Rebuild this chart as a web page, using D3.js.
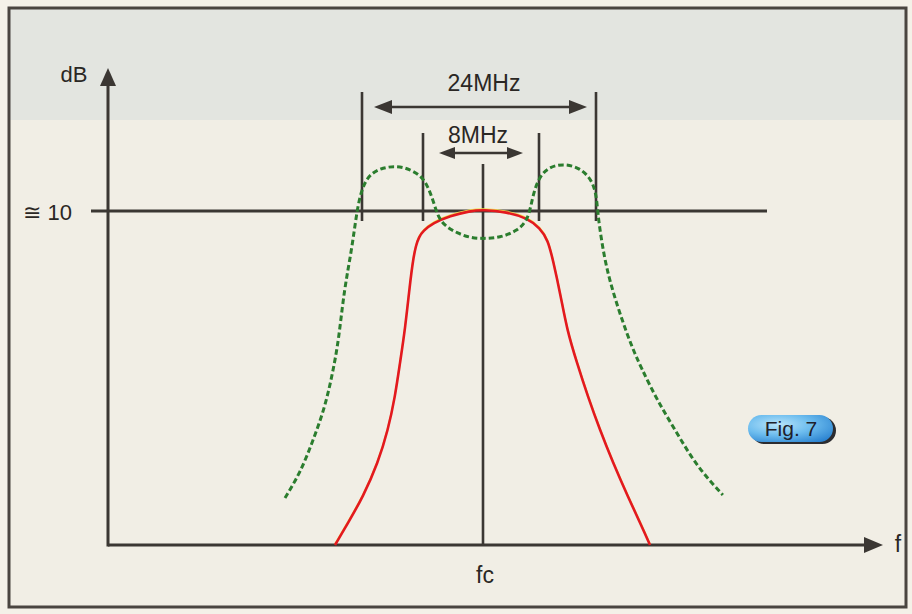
<!DOCTYPE html>
<html>
<head>
<meta charset="utf-8">
<script src="https://cdn.jsdelivr.net/npm/d3@7"></script>
<style>
    html, body { margin: 0; padding: 0; background: #f4f1e8; }
    svg { display: block; }
    text { font-family: "Liberation Sans", Arial, sans-serif; fill: #2a2724; }
</style>
</head>
<body>
<div id="chart"></div>
<script>
// DATA
// ----------------------------------------
// frequency offset from fc in MHz, level in dB
const WIDE_BAND = [-12, 12];      // 24MHz markers
const NARROW_BAND = [-4, 4];      // 8MHz markers
const REF_LEVEL = 10;
const REF_LABEL = "\u2245 10";
const WIDE_LABEL = "24MHz";
const NARROW_LABEL = "8MHz";

// red: wanted channel response
const redFreq = [-15.54, -15.54, -13.84, -11.87, -9.9, -8.59, -7.67, -7.02, -6.36, -5.7, -5.31, -4.92,
    -4.52, -4.0, -3.33, -2.2, -0.87, 0, 1.71, 3.14, 4.14, 5.26, 5.96, 7.02, 7.93, 9.33, 10.88,
    12.56, 14.39, 16.49, 18.46, 19.58, 19.58];
const redDb = [0, 0, 0.66, 1.44, 2.46, 3.44, 4.43, 5.45, 6.44, 7.84, 8.53, 8.98,
    9.22, 9.4, 9.64, 9.85, 10.0, 10.04, 9.97, 9.79, 9.49, 9.13, 8.53, 7.49, 6.44, 5.45, 4.43,
    3.44, 2.46, 1.44, 0.54, 0, 0];

// green dashed: double-humped response
const greenFreq = [-22.1, -22.1, -20.1, -18.4, -16.85, -15.85, -15.05, -14.35, -13.35, -12.66, -12, -10.95, -9.25,
    -7.4, -5.7, -4.13, -3.67, -3.33, -3.0, -2.53, -1.73, -0.87, 0, 1.21, 2.43, 3.21, 3.5, 3.86,
    5.12, 7.37, 9.75, 11.58, 12.14, 12.28, 13.2, 14.3, 15.79, 17.1, 18.3, 20.56, 23.37, 26.18, 29.8, 29.8];
const greenDb = [1.41, 1.41, 2.16, 3.14, 4.13, 5.15, 6.14, 7.63, 8.83, 10.03, 10.7, 11.12, 11.3,
    11.35, 11.25, 11.03, 10.72, 10.33, 9.82, 9.55, 9.34, 9.2, 9.17, 9.2, 9.4, 9.73, 10.33, 10.9,
    11.3, 11.42, 11.3, 10.9, 10.33, 9.82, 8.53, 7.63, 6.65, 5.9, 5.33, 4.34, 3.35, 2.34, 1.5, 1.5];

// LAYOUT
// ----------------------------------------
const WIDTH = 912;
const HEIGHT = 614;
const AXIS_X = 108;      // y axis position
const AXIS_END = 883;    // tip of f arrow
const INK = "#3b3733";
const RED = "#e3191f";
const GREEN = "#2b7d2e";

const svg = d3.select("#chart").append("svg")
    .attr("width", WIDTH)
    .attr("height", HEIGHT);

// schematic (not to scale) frequency axis
const x = d3.scaleLinear()
    .domain([WIDE_BAND[0], NARROW_BAND[0], 0, NARROW_BAND[1], WIDE_BAND[1]])
    .range([362, 423, 483, 539, 596]);
const y = d3.scaleLinear()
    .domain([0, REF_LEVEL])
    .range([545, 211]);

// BACKGROUND / FRAME
// ----------------------------------------
const defs = svg.append("defs");
const grad = defs.append("radialGradient")
    .attr("id", "pill").attr("cx", 0.35).attr("cy", 0.35).attr("r", 0.8);
grad.append("stop").attr("offset", "0%").attr("stop-color", "#b8e4fa");
grad.append("stop").attr("offset", "50%").attr("stop-color", "#6cbcee");
grad.append("stop").attr("offset", "100%").attr("stop-color", "#2a82d0");

svg.append("rect")
    .attr("x", 9).attr("y", 8).attr("width", 897).attr("height", 599)
    .attr("fill", "#f1eee5");
svg.append("rect")
    .attr("x", 9).attr("y", 8).attr("width", 897).attr("height", 112)
    .attr("fill", "#e3e5e0");
svg.append("rect")
    .attr("x", 9).attr("y", 8).attr("width", 897).attr("height", 599)
    .attr("fill", "none")
    .attr("stroke", "#4a4540")
    .attr("stroke-width", 3);

// AXES
// ----------------------------------------
const ink = svg.append("g").attr("stroke", INK).attr("fill", "none");

// y axis with arrow
ink.append("line")
    .attr("x1", AXIS_X).attr("x2", AXIS_X)
    .attr("y1", y(0) + 1.5).attr("y2", 80)
    .attr("stroke-width", 3);
svg.append("path")
    .attr("d", `M${AXIS_X},68 L${AXIS_X - 8},86 L${AXIS_X + 8},86 Z`)
    .attr("fill", INK);

// x axis with arrow
ink.append("line")
    .attr("x1", AXIS_X).attr("x2", AXIS_END - 12)
    .attr("y1", y(0)).attr("y2", y(0))
    .attr("stroke-width", 3);
svg.append("path")
    .attr("d", `M${AXIS_END},${y(0)} L${AXIS_END - 19},${y(0) - 8} L${AXIS_END - 19},${y(0) + 8} Z`)
    .attr("fill", INK);

// reference level line
ink.append("line")
    .attr("x1", 91).attr("x2", 767)
    .attr("y1", y(REF_LEVEL)).attr("y2", y(REF_LEVEL))
    .attr("stroke-width", 3);

// fc line
ink.append("line")
    .attr("x1", x(0)).attr("x2", x(0))
    .attr("y1", 164).attr("y2", y(0))
    .attr("stroke-width", 2.6);

// band markers
ink.selectAll(".wide")
    .data(WIDE_BAND)
    .enter().append("line")
    .attr("x1", d => x(d)).attr("x2", d => x(d))
    .attr("y1", 92).attr("y2", y(REF_LEVEL) + 10)
    .attr("stroke-width", 2.6);
ink.selectAll(".narrow")
    .data(NARROW_BAND)
    .enter().append("line")
    .attr("x1", d => x(d)).attr("x2", d => x(d))
    .attr("y1", 133).attr("y2", y(REF_LEVEL) + 10)
    .attr("stroke-width", 2.6);

// dimension arrows
function dimArrow(x1, x2, yy, head, half) {
    ink.append("line")
        .attr("x1", x1 + head - 2).attr("x2", x2 - head + 2)
        .attr("y1", yy).attr("y2", yy)
        .attr("stroke-width", 2.6);
    svg.append("path")
        .attr("d", `M${x1},${yy} L${x1 + head},${yy - half} L${x1 + head},${yy + half} Z`)
        .attr("fill", INK);
    svg.append("path")
        .attr("d", `M${x2},${yy} L${x2 - head},${yy - half} L${x2 - head},${yy + half} Z`)
        .attr("fill", INK);
}
dimArrow(x(WIDE_BAND[0]) + 12, x(WIDE_BAND[1]) - 9, 107, 18, 7);
dimArrow(x(NARROW_BAND[0]) + 16, x(NARROW_BAND[1]) - 16, 153, 16, 6);

// CURVES
// ----------------------------------------
const line = d3.line()
    .x(d => x(d[0]))
    .y(d => y(d[1]))
    .curve(d3.curveBasis);

const redData = d3.zip(redFreq, redDb);
const greenData = d3.zip(greenFreq, greenDb);

svg.append("path")
    .attr("d", line(redData))
    .attr("transform", "translate(0,-1.3)")
    .attr("fill", "none")
    .attr("stroke", "#f0e050")
    .attr("stroke-width", 1.5);
svg.append("path")
    .attr("d", line(redData))
    .attr("fill", "none")
    .attr("stroke", RED)
    .attr("stroke-width", 2.6);

svg.append("path")
    .attr("d", line(greenData))
    .attr("fill", "none")
    .attr("stroke", GREEN)
    .attr("stroke-width", 3)
    .attr("stroke-dasharray", "5.5,3");

// LABELS
// ----------------------------------------
svg.append("text")
    .attr("x", 74).attr("y", 82)
    .attr("text-anchor", "middle")
    .style("font-size", "22px")
    .text("dB");
svg.append("text")
    .attr("x", 72).attr("y", 220)
    .attr("text-anchor", "end")
    .style("font-size", "22px")
    .text(REF_LABEL);
svg.append("text")
    .attr("x", x(0) + 1).attr("y", 91)
    .attr("text-anchor", "middle")
    .style("font-size", "23px")
    .text(WIDE_LABEL);
svg.append("text")
    .attr("x", x(0) - 5).attr("y", 143)
    .attr("text-anchor", "middle")
    .style("font-size", "23px")
    .text(NARROW_LABEL);
svg.append("text")
    .attr("x", x(0) + 2).attr("y", 583)
    .attr("text-anchor", "middle")
    .style("font-size", "23px")
    .text("fc");
svg.append("text")
    .attr("x", 898).attr("y", 552)
    .attr("text-anchor", "middle")
    .style("font-size", "23px")
    .text("f");

// Fig. badge
svg.append("rect")
    .attr("x", 751).attr("y", 417).attr("width", 85).attr("height", 27).attr("rx", 13.5)
    .attr("fill", "#2c2c30");
svg.append("rect")
    .attr("x", 748).attr("y", 415).attr("width", 85).attr("height", 27).attr("rx", 13.5)
    .attr("fill", "url(#pill)");
svg.append("text")
    .attr("x", 791).attr("y", 436)
    .attr("text-anchor", "middle")
    .style("font-size", "21px")
    .style("fill", "#20202a")
    .text("Fig. 7");
</script>
</body>
</html>
